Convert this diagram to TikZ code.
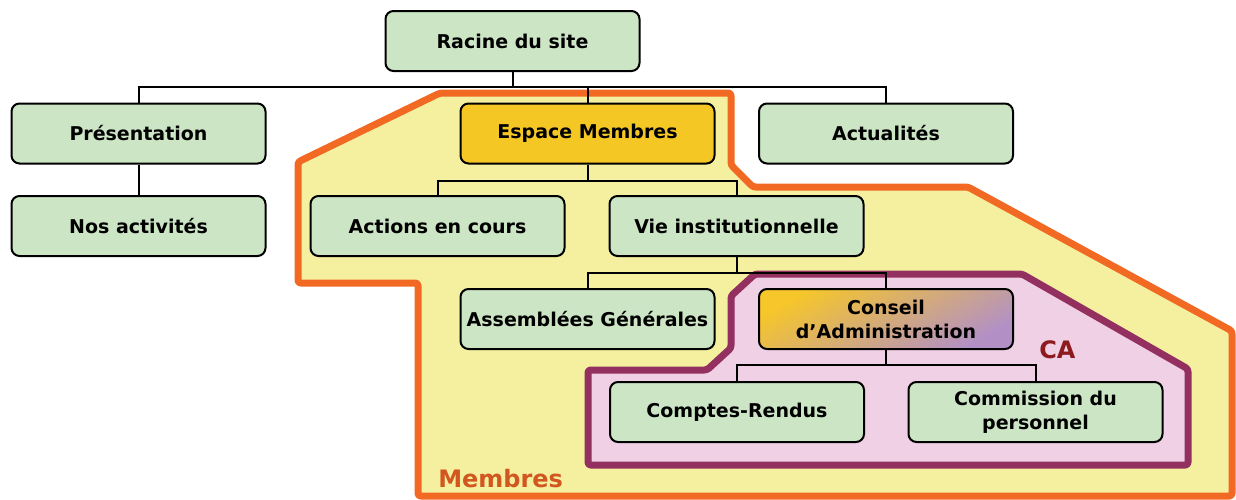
\documentclass[tikz,border=0pt]{standalone}
\usepackage{fontspec}
\setmainfont{DejaVu Sans}
\definecolor{boxgreen}{RGB}{204,229,197}
\definecolor{espyellow}{RGB}{245,199,36}
\definecolor{memfill}{RGB}{244,240,160}
\definecolor{memline}{RGB}{242,105,35}
\definecolor{memtext}{RGB}{210,86,32}
\definecolor{cafill}{RGB}{239,208,228}
\definecolor{caline}{RGB}{147,48,96}
\definecolor{catext}{RGB}{140,26,30}
\definecolor{gradA}{RGB}{246,198,42}
\definecolor{gradB}{RGB}{226,166,196}
\definecolor{gradC}{RGB}{178,144,198}
\tikzset{
  pagebox/.style={draw=black, line width=1.5pt, rounded corners=6pt, fill=boxgreen,
    minimum width=190.5pt, minimum height=45pt, align=center, inner sep=2pt,
    font=\fontsize{14.25pt}{18pt}\selectfont\bfseries},
  link/.style={draw=black, line width=1.5pt},
  zone/.style={line width=5.25pt, rounded corners=2pt, line join=round},
}
\begin{document}
\begin{tikzpicture}[x=0.75pt,y=-0.75pt]
\useasboundingbox (0,0) rectangle (1236,500);
% zones
\path[zone, draw=memline, fill=memfill]
  (440,93) -- (731,93) -- (731,165) -- (753,187) -- (968,187) -- (1232,331)
  -- (1232,496) -- (418,496) -- (418,283) -- (298,283) -- (298,162) -- cycle;
\path[zone, draw=caline, fill=cafill]
  (755,274) -- (1022,274) -- (1188,369) -- (1188,465) -- (588,465) -- (588,370)
  -- (707,370) -- (731,348) -- (731,296) -- cycle;
\node[anchor=base west, text=memtext, font=\fontsize{18pt}{18pt}\selectfont\bfseries, inner sep=0pt] (memlabel) at (438,487) {Membres};
\node[anchor=base west, text=catext, font=\fontsize{18pt}{18pt}\selectfont\bfseries, inner sep=0pt] (calabel) at (1039,358) {CA};
% nodes
\node[pagebox] (root) at (512.5,41) {Racine du site};
\node[pagebox] (pres) at (138.5,133.5) {Présentation};
\node[pagebox, fill=espyellow] (esp) at (587.5,133.5) {Espace Membres};
\node[pagebox] (act) at (886,133.5) {Actualités};
\node[pagebox] (nos) at (138.5,226) {Nos activités};
\node[pagebox] (actions) at (437.5,226) {Actions en cours};
\node[pagebox] (vie) at (736.5,226) {Vie institutionnelle};
\node[pagebox] (assem) at (587.5,319) {Assemblées Générales};
\node[pagebox, top color=gradA, middle color=gradB, bottom color=gradC, shading angle=30] (conseil) at (886,319) {Conseil\\d’Administration};
\node[pagebox] (comptes) at (737,412) {Comptes-Rendus};
\node[pagebox] (commission) at (1035.5,412) {Commission du\\personnel};
% connectors
\draw[link] (root.south) -- ++(0,15) -| (pres.north);
\draw[link] (root.south) -- ++(0,15) -| (esp.north);
\draw[link] (root.south) -- ++(0,15) -| (act.north);
\draw[link] (pres.south) -- (nos.north);
\draw[link] (esp.south) -- ++(0,16) -| (actions.north);
\draw[link] (esp.south) -- ++(0,16) -| (vie.north);
\draw[link] (vie.south) -- ++(0,16) -| (assem.north);
\draw[link] (vie.south) -- ++(0,16) -| (conseil.north);
\draw[link] (conseil.south) -- ++(0,15) -| (comptes.north);
\draw[link] (conseil.south) -- ++(0,15) -| (commission.north);
\end{tikzpicture}
\end{document}
